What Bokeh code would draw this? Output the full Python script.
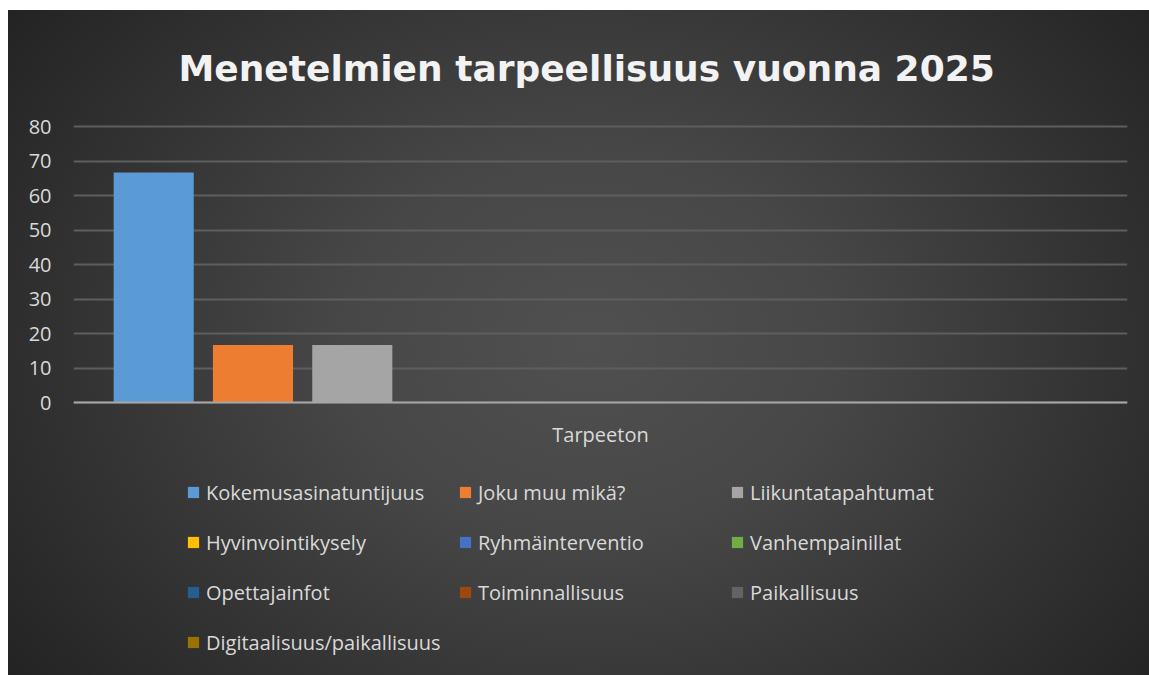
from bokeh.plotting import figure
from bokeh.models import FactorRange, Range1d, FixedTicker, Legend, LegendItem
from bokeh.transform import dodge
from bokeh.embed import file_html
from bokeh.resources import INLINE

title_text = "Menetelmien tarpeellisuus vuonna 2025"
categories = ["Tarpeeton"]
series = ["Kokemusasinatuntijuus", "Joku muu mikä?", "Liikuntatapahtumat",
          "Hyvinvointikysely", "Ryhmäinterventio", "Vanhempainillat",
          "Opettajainfot", "Toiminnallisuus", "Paikallisuus",
          "Digitaalisuus/paikallisuus"]
values = [66.7, 16.7, 16.7, 0, 0, 0, 0, 0, 0, 0]
colors = ["#5B9BD5", "#ED7D31", "#A5A5A5", "#FFC000", "#4472C4",
          "#70AD47", "#255E91", "#9E480E", "#636363", "#997300"]
y_ticks = [0, 10, 20, 30, 40, 50, 60, 70, 80]

FONT = "Open Sans"
TXT = "#d9d9d9"

# plot area: 80 units over 276 px; frame extended down for axis label + legend,
# and 2 px up so the top gridline is not clipped
px_per_unit = 276 / 80
y_min = -273 / px_per_unit
y_max = 80 + 2 / px_per_unit

p = figure(width=1141, height=665, output_backend="svg", toolbar_location=None,
           x_range=FactorRange(*categories), y_range=Range1d(y_min, y_max),
           min_border_left=65, min_border_right=22, min_border_top=114,
           min_border_bottom=0)
p.margin = (10, 0, 0, 8)

p.styles = {"background": "radial-gradient(ellipse 72% 95% at 51% 50%, #505050 0%, #474747 30%, #333333 62%, #1c1c1c 100%)"}
p.background_fill_color = None
p.border_fill_color = None
p.outline_line_color = None

p.title.text = title_text
p.title.align = "left"
p.title.offset = 105
p.title.vertical_align = "middle"
p.title.text_font = "DejaVu Sans"
p.title.text_font_style = "bold"
p.title.text_font_size = "36px"
p.title.text_color = "#f2f2f2"
p.title.standoff = 70

step = 0.0942
width = 0.076
items = []
for i, (name, val, col) in enumerate(zip(series, values, colors)):
    src = {"x": categories, "top": [val]}
    r = p.vbar(x=dodge("x", (i - 4.5) * step, range=p.x_range), top="top",
               bottom=0, width=width, source=src, fill_color=col, line_color=None)
    items.append(LegendItem(label=name, renderers=[r]))

p.yaxis.ticker = FixedTicker(ticks=y_ticks)
p.yaxis.axis_line_color = None
p.yaxis.major_tick_line_color = None
p.yaxis.minor_tick_line_color = None
p.yaxis.major_label_standoff = 16
p.yaxis.major_label_text_font = FONT
p.yaxis.major_label_text_font_size = "20px"
p.yaxis.major_label_text_color = TXT

xa = p.xaxis[0]
xa.fixed_location = 0
xa.axis_line_color = "#a6a6a6"
xa.axis_line_width = 2
xa.major_tick_line_color = None
xa.minor_tick_line_color = None
xa.major_label_standoff = 12
xa.major_label_text_font = FONT
xa.major_label_text_font_size = "20px"
xa.major_label_text_color = TXT

p.xgrid.grid_line_color = None
p.ygrid.grid_line_color = "#5e5e5e"
p.ygrid.grid_line_width = 2

legend = Legend(items=items, orientation="horizontal", ncols=3,
                location=(113, 13), glyph_width=14, glyph_height=14,
                label_standoff=6, label_height=40, label_width=242, spacing=10,
                padding=0, margin=0, label_text_font=FONT,
                label_text_font_size="20px", label_text_color=TXT,
                border_line_color=None, background_fill_alpha=0)
p.add_layout(legend)

open("out.html", "w").write(file_html(p, INLINE))
